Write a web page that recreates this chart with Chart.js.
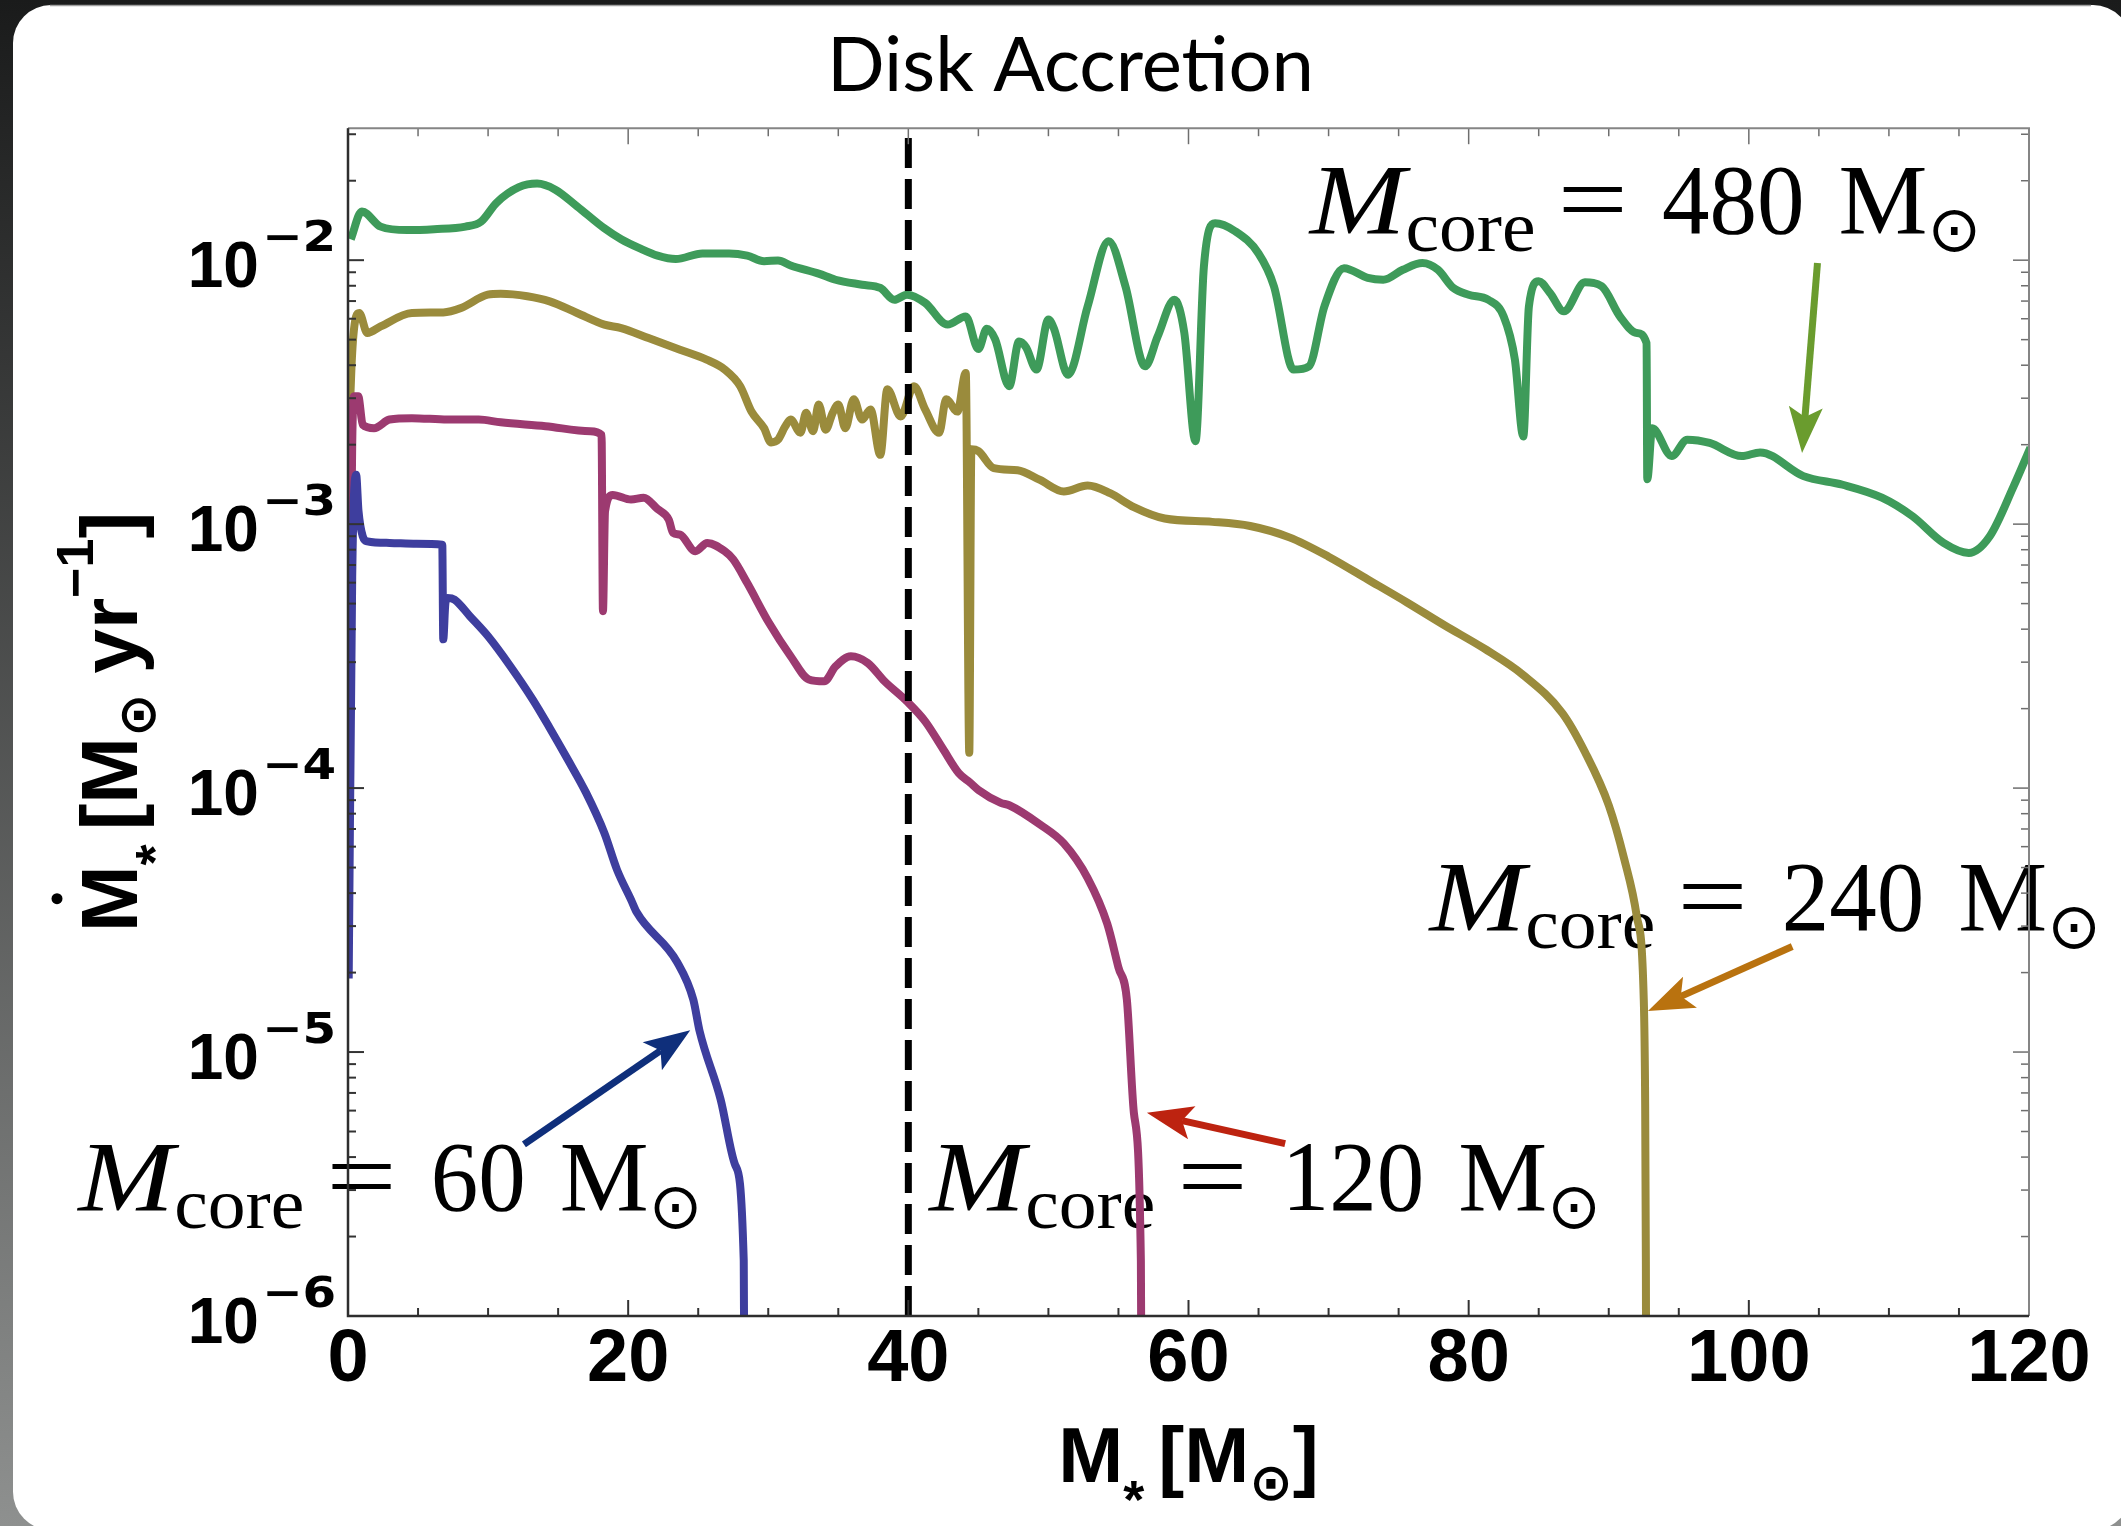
<!DOCTYPE html>
<html lang="en">
<head>
    <meta charset="UTF-8">
    <title>Disk Accretion</title>
    <script src="https://cdn.jsdelivr.net/npm/chart.js@4.4.1/dist/chart.umd.min.js"></script>
    <style>
        html, body { margin: 0; padding: 0; background: #1b1b1b; overflow: hidden; }
        #accretionChart { display: block; }
    </style>
</head>
<body>
    <canvas id="accretionChart" width="2121" height="1526"></canvas>

    <script>
        // stellar mass [Msun] and disk accretion rate [Msun/yr], one pair per core mass
        const core60Mass = [0.05, 0.3, 0.58, 0.75, 1.05, 1.38, 2.97, 4.88, 6.73, 6.8, 6.95, 7.1, 7.6, 8.7, 10.0, 11.6, 13.2, 14.4, 15.7, 17.0,
            18.3, 19.2, 20.2, 20.6, 23.5, 24.65, 25.1, 26.6, 27.65, 28.25, 28.35];
        const core60Rate = [1.9e-5, 6.3e-4, 1.54e-3, 1.12e-3, 9.0e-4, 8.61e-4, 8.49e-4, 8.43e-4, 8.36e-4, 3.66e-4, 5.01e-4, 5.25e-4, 5.18e-4, 4.48e-4, 3.76e-4, 2.89e-4, 2.16e-4, 1.69e-4, 1.28e-4, 9.59e-5,
            6.76e-5, 4.91e-5, 3.78e-5, 3.39e-5, 2.19e-5, 1.58e-5, 1.20e-5, 6.61e-6, 3.72e-6, 1.62e-6, 1e-7];

        const core120Mass = [0.05, 0.3, 0.42, 0.73, 1.05, 1.86, 2.97, 4.56, 7.1, 9.34, 10.9, 14.1, 17.3, 18.1, 18.2, 18.35, 18.9, 20.2, 21.1, 22.1,
            22.9, 23.2, 23.7, 24.8, 25.65, 26.9, 27.5, 28.5, 30.05, 31.6, 32.9, 34.0, 34.8, 35.9, 37.1, 38.3, 39.9, 41.2, 42.5, 43.6,
            44.4, 45.0, 46.6, 47.2, 49.4, 51.1, 52.8, 54.2, 55.0, 55.6, 56.1, 56.6, 56.7];
        const core120Rate = [1.0e-4, 2.0e-3, 3.05e-3, 3.05e-3, 2.38e-3, 2.31e-3, 2.49e-3, 2.52e-3, 2.49e-3, 2.49e-3, 2.43e-3, 2.35e-3, 2.25e-3, 2.18e-3, 4.68e-4, 1.12e-3, 1.29e-3, 1.24e-3, 1.26e-3, 1.14e-3,
            1.04e-3, 9.27e-4, 9.12e-4, 7.89e-4, 8.49e-4, 7.89e-4, 7.35e-4, 5.98e-4, 4.23e-4, 3.16e-4, 2.58e-4, 2.54e-4, 2.89e-4, 3.16e-4, 2.98e-4, 2.54e-4, 2.13e-4, 1.79e-4, 1.40e-4, 1.14e-4,
            1.05e-4, 9.84e-5, 8.79e-5, 8.61e-5, 7.28e-5, 6.17e-5, 4.56e-5, 3.06e-5, 2.09e-5, 1.58e-5, 5.89e-6, 1.62e-6, 1e-7];

        const core240Mass = [0.05, 0.3, 0.58, 0.8, 1.38, 2.33, 4.56, 6.8, 8.07, 9.98, 10.9, 12.8, 14.4, 16.35, 18.3, 19.5, 21.45, 23.7, 25.6, 26.9,
            28.0, 28.8, 29.7, 30.2, 30.7, 31.2, 31.6, 32.3, 32.7, 33.2, 33.6, 34.1, 34.6, 35.0, 35.5, 36.1, 36.7, 37.3, 38.0, 38.5,
            39.45, 40.4, 41.2, 42.2, 42.7, 43.5, 44.1, 44.35, 44.5, 45.0, 46.1, 47.8, 49.4, 51.1, 52.8, 54.4, 56.1, 58.3, 61.7, 64.4,
            67.2, 70.0, 72.8, 75.6, 78.3, 81.1, 83.9, 86.7, 88.3, 90.0, 91.1, 92.0, 92.5, 92.6, 92.65, 92.7];
        const core240Rate = [2.04e-3, 4.47e-3, 6.12e-3, 6.31e-3, 5.30e-3, 5.61e-3, 6.31e-3, 6.34e-3, 6.59e-3, 7.40e-3, 7.46e-3, 7.30e-3, 6.98e-3, 6.31e-3, 5.70e-3, 5.53e-3, 5.07e-3, 4.58e-3, 4.20e-3, 3.85e-3,
            3.33e-3, 2.67e-3, 2.31e-3, 2.04e-3, 2.09e-3, 2.34e-3, 2.49e-3, 2.22e-3, 2.64e-3, 2.25e-3, 2.84e-3, 2.28e-3, 2.64e-3, 2.84e-3, 2.31e-3, 2.97e-3, 2.49e-3, 2.72e-3, 1.83e-3, 3.24e-3,
            2.56e-3, 3.33e-3, 2.72e-3, 2.22e-3, 2.97e-3, 2.67e-3, 3.74e-3, 1.36e-4, 1.92e-3, 1.89e-3, 1.63e-3, 1.60e-3, 1.47e-3, 1.33e-3, 1.40e-3, 1.31e-3, 1.16e-3, 1.05e-3, 1.02e-3, 9.84e-4,
            8.91e-4, 7.53e-4, 6.17e-4, 5.05e-4, 4.13e-4, 3.38e-4, 2.68e-4, 1.92e-4, 1.37e-4, 8.61e-5, 5.40e-5, 3.27e-5, 1.58e-5, 6.31e-6, 1.58e-6, 1e-7];

        const core480Mass = [0.2, 0.99, 2.33, 4.24, 6.15, 8.39, 9.5, 10.6, 12.2, 13.5, 14.8, 16.35, 18.3, 19.5, 20.8, 22.1, 23.4, 25.3, 27.2, 28.5,
            29.7, 30.7, 31.6, 33.6, 34.8, 36.7, 38.0, 39.0, 39.9, 41.2, 42.8, 44.1, 45.0, 45.6, 46.2, 47.2, 47.9, 48.4, 49.15, 50.0,
            50.4, 51.4, 52.8, 54.3, 55.5, 56.9, 57.8, 59.0, 59.7, 60.5, 61.1, 61.9, 63.3, 65.0, 66.1, 67.5, 68.6, 69.7, 71.1, 72.8,
            73.9, 75.3, 76.7, 77.8, 78.9, 80.0, 81.4, 82.5, 83.3, 83.9, 84.3, 85.0, 85.8, 86.8, 88.3, 89.5, 90.8, 92.0, 92.7, 92.75,
            93.1, 94.5, 95.6, 97.2, 99.5, 100.8, 103.9, 106.7, 109.5, 111.7, 113.9, 115.7, 117.2, 118.9, 120.1];
        const core480Rate = [1.20e-2, 1.53e-2, 1.34e-2, 1.30e-2, 1.31e-2, 1.34e-2, 1.40e-2, 1.65e-2, 1.89e-2, 1.95e-2, 1.85e-2, 1.60e-2, 1.32e-2, 1.20e-2, 1.11e-2, 1.04e-2, 1.01e-2, 1.06e-2, 1.06e-2, 1.04e-2,
            9.91e-3, 9.98e-3, 9.55e-3, 8.89e-3, 8.43e-3, 8.07e-3, 7.85e-3, 7.08e-3, 7.40e-3, 6.89e-3, 5.70e-3, 6.12e-3, 4.61e-3, 5.50e-3, 5.01e-3, 3.33e-3, 4.92e-3, 4.68e-3, 3.85e-3, 5.96e-3,
            5.50e-3, 3.68e-3, 6.68e-3, 1.18e-2, 7.96e-3, 3.96e-3, 5.14e-3, 7.08e-3, 5.31e-3, 2.06e-3, 9.48e-3, 1.38e-2, 1.29e-2, 1.06e-2, 7.96e-3, 3.85e-3, 3.96e-3, 6.68e-3, 9.33e-3, 8.57e-3,
            8.43e-3, 9.20e-3, 9.75e-3, 9.20e-3, 7.85e-3, 7.40e-3, 7.08e-3, 6.12e-3, 4.20e-3, 2.15e-3, 6.68e-3, 8.32e-3, 7.52e-3, 6.40e-3, 8.24e-3, 7.96e-3, 6.12e-3, 5.30e-3, 4.85e-3, 1.48e-3,
            2.31e-3, 1.81e-3, 2.09e-3, 2.03e-3, 1.81e-3, 1.87e-3, 1.52e-3, 1.41e-3, 1.26e-3, 1.07e-3, 8.49e-4, 7.78e-4, 9.00e-4, 1.39e-3, 1.95e-3];

        // dashed marker at M* = 40
        const dividerMass = [40, 40];
        const dividerRate = [1e-6, 0.0316];

        const xTicks = [0, 20, 40, 60, 80, 100, 120];
        const xMinorStep = 5;
        const yDecades = [-6, -5, -4, -3, -2];
        const yMin = 1e-6;
        const yMax = Math.pow(10, -1.5);

        // annotations, placed in data coordinates
        const coreLabels = [
            { text: '480', mass: 68.65, rate: 1.27e-2 },
            { text: '240', mass: 77.2, rate: 2.91e-5 },
            { text: '120', mass: 41.5, rate: 2.53e-6 },
            { text: '60', mass: -19.25, rate: 2.53e-6 }
        ];
        const coreArrows = [
            { from: [104.9, 9.75e-3], to: [103.8, 1.86e-3], color: '#6a9c2e' },
            { from: [103.1, 2.51e-5], to: [92.8, 1.43e-5], color: '#b9720f' },
            { from: [66.9, 4.50e-6], to: [57.03, 5.89e-6], color: '#bd2310' },
            { from: [12.56, 4.47e-6], to: [24.43, 1.21e-5], color: '#0f2f7b' }
        ];

        const CURVE_WIDTH = 8;

        function toPoints(xs, ys) {
            return xs.map((x, i) => ({ x: x, y: ys[i] }));
        }

        // draws a row of text pieces with their own font, vertical shift and horizontal stretch
        function runsWidth(ctx, runs) {
            let total = 0;
            runs.forEach(r => {
                ctx.font = r.font;
                r.w = ctx.measureText(r.text).width * (r.sx || 1) + (r.gap || 0);
                total += r.w;
            });
            return total;
        }

        function drawRuns(ctx, runs, x, y, align) {
            const total = runsWidth(ctx, runs);
            let cx = x;
            if (align === 'center') cx = x - total / 2;
            if (align === 'right') cx = x - total;
            const starts = [];
            runs.forEach(r => {
                ctx.font = r.font;
                starts.push(cx);
                ctx.save();
                ctx.translate(cx, y + (r.dy || 0));
                ctx.scale(r.sx || 1, 1);
                ctx.fillText(r.text, 0, 0);
                ctx.restore();
                cx += r.w;
            });
            return starts;
        }

        function coreRuns(num) {
            const big = '100px "Liberation Serif"';
            return [
                { text: 'M', font: 'italic ' + big, sx: 1.15 },
                { text: 'core', font: '72px "Liberation Serif"', sx: 1.05, dy: 18, gap: 22 },
                { text: '=', font: big, sx: 1.25, gap: 34 },
                { text: num, font: big, sx: 0.95, gap: 34 },
                { text: 'M', font: big },
                { text: '\u2299', font: '64px "DejaVu Sans"', dy: 18 }
            ];
        }

        function drawArrow(ctx, x0, y0, x1, y1, color) {
            const ang = Math.atan2(y1 - y0, x1 - x0);
            const c = Math.cos(ang), s = Math.sin(ang);
            const head = 46, half = 17, notch = 10;
            const bx = x1 - c * (head - notch), by = y1 - s * (head - notch);
            const backX = x1 - c * head, backY = y1 - s * head;
            ctx.strokeStyle = color;
            ctx.fillStyle = color;
            ctx.lineWidth = 7;
            ctx.beginPath();
            ctx.moveTo(x0, y0);
            ctx.lineTo(bx, by);
            ctx.stroke();
            ctx.beginPath();
            ctx.moveTo(x1, y1);
            ctx.lineTo(backX - s * half, backY + c * half);
            ctx.lineTo(bx, by);
            ctx.lineTo(backX + s * half, backY - c * half);
            ctx.closePath();
            ctx.fill();
        }

        const paperPlugin = {
            id: 'paper',
            beforeDraw(chart) {
                const { ctx, width, height } = chart;
                ctx.save();
                const bg = ctx.createLinearGradient(0, 0, 0, height);
                bg.addColorStop(0, '#1a1b1b');
                bg.addColorStop(1, '#8e908f');
                ctx.fillStyle = bg;
                ctx.fillRect(0, 0, width, height);
                ctx.fillStyle = '#ffffff';
                ctx.beginPath();
                ctx.roundRect(13, 5, width - 3, height - 1, 38);
                ctx.fill();
                ctx.strokeStyle = '#a0a0a0';
                ctx.lineWidth = 1.5;
                ctx.beginPath();
                ctx.moveTo(50, 5.5);
                ctx.lineTo(width - 30, 5.5);
                ctx.stroke();
                ctx.restore();
            }
        };

        const notesPlugin = {
            id: 'notes',
            beforeDatasetsDraw(chart) {
                const { ctx, scales: { x, y } } = chart;
                ctx.save();
                ctx.fillStyle = '#000';
                ctx.textAlign = 'left';
                ctx.textBaseline = 'alphabetic';
                coreLabels.forEach(l => {
                    drawRuns(ctx, coreRuns(l.text), x.getPixelForValue(l.mass), y.getPixelForValue(l.rate), 'left');
                });
                ctx.restore();
            },
            afterDatasetsDraw(chart) {
                const { ctx, scales: { x, y } } = chart;
                ctx.save();
                coreArrows.forEach(a => {
                    drawArrow(ctx,
                        x.getPixelForValue(a.from[0]), y.getPixelForValue(a.from[1]),
                        x.getPixelForValue(a.to[0]), y.getPixelForValue(a.to[1]), a.color);
                });
                ctx.restore();
            }
        };

        // Mathematica-like frame: inward ticks on all four sides, labels and axis titles
        const framePlugin = {
            id: 'frame',
            afterDraw(chart) {
                const { ctx, chartArea: a, scales: { x, y } } = chart;
                ctx.save();

                // x ticks
                for (let m = xTicks[0]; m <= xTicks[xTicks.length - 1]; m += xMinorStep) {
                    const px = x.getPixelForValue(m);
                    const len = xTicks.includes(m) ? 16 : 8;
                    ctx.strokeStyle = '#333';
                    ctx.lineWidth = 2;
                    ctx.beginPath();
                    ctx.moveTo(px, a.bottom);
                    ctx.lineTo(px, a.bottom - len);
                    ctx.stroke();
                    ctx.strokeStyle = '#6e6e6e';
                    ctx.lineWidth = 1.5;
                    ctx.beginPath();
                    ctx.moveTo(px, a.top);
                    ctx.lineTo(px, a.top + len);
                    ctx.stroke();
                }

                // y ticks
                yDecades.forEach(d => {
                    for (let k = 1; k <= 9; k++) {
                        const v = k * Math.pow(10, d);
                        if (v > yMax) break;
                        const py = y.getPixelForValue(v);
                        const len = k === 1 ? 16 : 8;
                        ctx.strokeStyle = '#333';
                        ctx.lineWidth = 2;
                        ctx.beginPath();
                        ctx.moveTo(a.left, py);
                        ctx.lineTo(a.left + len, py);
                        ctx.stroke();
                        ctx.strokeStyle = '#6e6e6e';
                        ctx.lineWidth = 1.5;
                        ctx.beginPath();
                        ctx.moveTo(a.right, py);
                        ctx.lineTo(a.right - len, py);
                        ctx.stroke();
                    }
                });

                // frame
                ctx.lineWidth = 2;
                ctx.strokeStyle = '#858585';
                ctx.beginPath();
                ctx.moveTo(a.left, a.top);
                ctx.lineTo(a.right, a.top);
                ctx.lineTo(a.right, a.bottom);
                ctx.stroke();
                ctx.strokeStyle = '#2e2e2e';
                ctx.lineWidth = 2.5;
                ctx.beginPath();
                ctx.moveTo(a.left, a.top);
                ctx.lineTo(a.left, a.bottom);
                ctx.lineTo(a.right, a.bottom);
                ctx.stroke();

                // y tick labels 10^n
                ctx.fillStyle = '#000';
                ctx.textBaseline = 'alphabetic';
                ctx.textAlign = 'left';
                yDecades.forEach(d => {
                    const py = y.getPixelForValue(Math.pow(10, d));
                    drawRuns(ctx, [
                        { text: '10', font: 'bold 64px "Liberation Sans"', dy: 27, gap: 3 },
                        { text: '\u2212' + Math.abs(d), font: 'bold 42px "DejaVu Sans"', dy: -9, sx: 1.15 }
                    ], a.left - 12, py, 'right');
                });

                // x axis title
                const bold = 'bold 78px "Liberation Sans"';
                drawRuns(ctx, [
                    { text: 'M', font: bold },
                    { text: '*', font: 'bold 54px "Liberation Sans"', dy: 36, gap: 14 },
                    { text: '[', font: bold },
                    { text: 'M', font: bold },
                    { text: '\u2299', font: 'bold 52px "DejaVu Sans"', dy: 18 },
                    { text: ']', font: bold }
                ], (a.left + a.right) / 2, 1482, 'center');

                // y axis title
                ctx.translate(137, 722);
                ctx.rotate(-Math.PI / 2);
                const main = 'bold 80px "Liberation Sans"';
                const starts = drawRuns(ctx, [
                    { text: 'M', font: main },
                    { text: '*', font: 'bold 54px "Liberation Sans"', dy: 36, gap: 14 },
                    { text: '[', font: main },
                    { text: 'M', font: main },
                    { text: '\u2299', font: 'bold 52px "DejaVu Sans"', dy: 18, gap: 20 },
                    { text: 'yr', font: main },
                    { text: '\u22121', font: 'bold 52px "Liberation Sans"', dy: -44 },
                    { text: ']', font: main }
                ], 0, 0, 'center');
                ctx.font = main;
                const mw = ctx.measureText('M').width;
                ctx.beginPath();
                ctx.arc(starts[0] + mw / 2, -80, 5.5, 0, Math.PI * 2);
                ctx.fill();

                ctx.restore();
            }
        };

        function curve(label, xs, ys, color) {
            return {
                label: label,
                data: toPoints(xs, ys),
                borderColor: color,
                borderWidth: CURVE_WIDTH,
                pointRadius: 0,
                cubicInterpolationMode: 'monotone',
                borderJoinStyle: 'round',
                borderCapStyle: 'butt',
                clip: 0
            };
        }

        // the marker is straight, so no curve smoothing
        const divider = {
            label: 'M* = 40',
            data: toPoints(dividerMass, dividerRate),
            borderColor: '#000',
            borderWidth: 7,
            borderDash: [30, 11],
            pointRadius: 0,
            tension: 0,
            clip: 0
        };

        new Chart(document.getElementById('accretionChart'), {
            type: 'line',
            data: {
                datasets: [
                    divider,
                    curve('Mcore = 60', core60Mass, core60Rate, '#3e3e9e'),
                    curve('Mcore = 120', core120Mass, core120Rate, '#9c3a70'),
                    curve('Mcore = 240', core240Mass, core240Rate, '#9a8b3c'),
                    curve('Mcore = 480', core480Mass, core480Rate, '#3e9b5a')
                ]
            },
            options: {
                responsive: false,
                animation: false,
                devicePixelRatio: 1,
                events: [],
                layout: { padding: { left: 20, right: 0, top: 0, bottom: 0 } },
                elements: {
                    point: { radius: 0 }
                },
                plugins: {
                    legend: { display: false },
                    tooltip: { enabled: false },
                    title: {
                        display: true,
                        text: 'Disk Accretion',
                        color: '#000',
                        font: { family: 'Lato', size: 76, weight: 'normal' },
                        padding: { top: 21, bottom: 16 }
                    }
                },
                scales: {
                    x: {
                        type: 'linear',
                        min: 0,
                        max: 120,
                        afterBuildTicks: scale => { scale.ticks = xTicks.map(v => ({ value: v })); },
                        ticks: {
                            color: '#000',
                            font: { family: 'Liberation Sans', size: 74, weight: 'bold' },
                            padding: 0,
                            maxRotation: 0,
                            autoSkip: false
                        },
                        grid: { display: false, drawTicks: false },
                        border: { display: false },
                        afterFit: scale => {
                            scale.height = 210;
                            scale.paddingLeft = 0;
                            scale.paddingRight = 92;
                        }
                    },
                    y: {
                        type: 'logarithmic',
                        min: yMin,
                        max: yMax,
                        ticks: { display: false },
                        grid: { display: false, drawTicks: false },
                        border: { display: false },
                        afterFit: scale => {
                            scale.width = 328;
                            scale.paddingTop = 0;
                            scale.paddingBottom = 0;
                        }
                    }
                }
            },
            plugins: [paperPlugin, notesPlugin, framePlugin]
        });
    </script>
</body>
</html>
